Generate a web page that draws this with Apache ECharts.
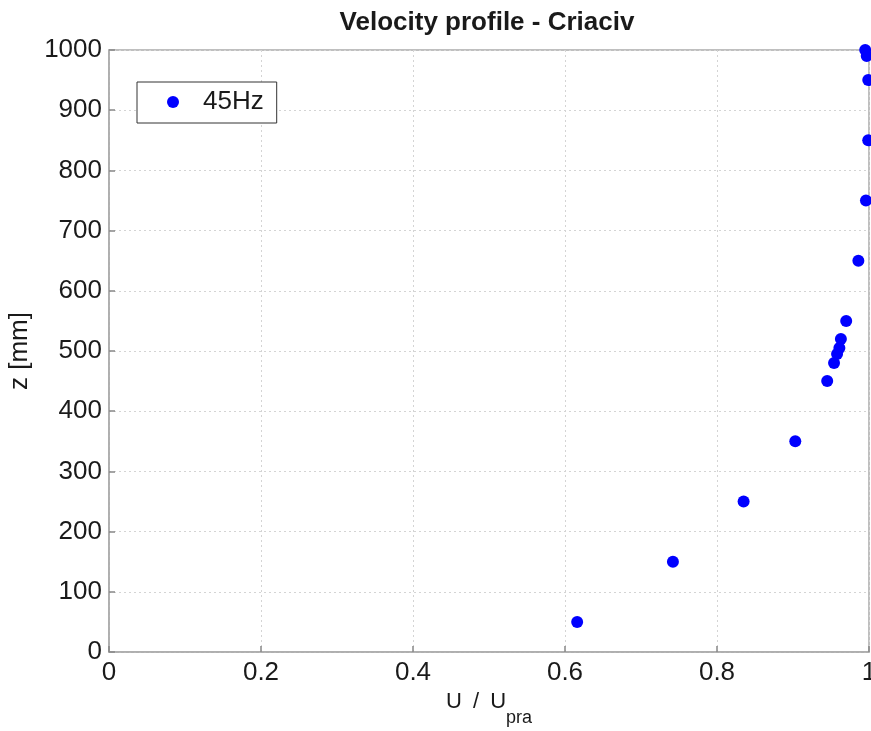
<!DOCTYPE html>
<html>
<head>
<meta charset="utf-8">
<script src="https://cdn.jsdelivr.net/npm/echarts@6/dist/echarts.min.js"></script>
<style>
  html, body { margin: 0; padding: 0; background: #fff; }
  #chart { width: 871px; height: 731px; }
</style>
</head>
<body>
<div id="chart"></div>
<script>
// Normalised velocity U/Upra against height z (mm), 45 Hz fan setting
const seriesName = '45Hz';
const velocityRatio = [0.616, 0.742, 0.835, 0.903, 0.945, 0.954, 0.958, 0.961, 0.963, 0.970, 0.986, 0.996, 0.999, 0.999, 0.997, 0.995];
const heightMm     = [50,    150,   250,   350,   450,   480,   495,   505,   520,   550,   650,   750,   850,   950,   990,   1000];
const xTicks = [0, 0.2, 0.4, 0.6, 0.8, 1];
const yTicks = [0, 100, 200, 300, 400, 500, 600, 700, 800, 900, 1000];

const points = velocityRatio.map((u, i) => [u, heightMm[i]]);

const font = 'Liberation Sans, Arial, Helvetica, sans-serif';
const chart = echarts.init(document.getElementById('chart'), null, { renderer: 'canvas' });

chart.setOption({
  animation: false,
  backgroundColor: '#fff',
  title: {
    text: 'Velocity profile - Criaciv',
    left: 482,
    textAlign: 'center',
    top: 5,
    textStyle: { fontFamily: font, fontSize: 26, fontWeight: 'bold', color: '#1a1a1a' }
  },
  grid: {
    left: 109, right: 2, top: 50, bottom: 79,
    outerBoundsMode: 'none',
    show: true, borderColor: '#aaa', borderWidth: 1.5, backgroundColor: 'transparent'
  },
  legend: {
    left: 137, top: 82,
    orient: 'vertical',
    data: [seriesName],
    icon: 'circle',
    itemWidth: 12, itemHeight: 12,
    padding: [7, 13, 8, 30],
    borderColor: '#333', borderWidth: 1,
    backgroundColor: '#fff',
    textStyle: { fontFamily: font, fontSize: 26, color: '#1a1a1a', lineHeight: 26, padding: [0, 0, 0, 19] }
  },
  xAxis: {
    type: 'value',
    min: 0, max: 1, interval: 0.2,
    name: '{a|U }{s|/}{a| U}{b|pra}',
    nameLocation: 'middle',
    nameGap: 23,
    nameTextStyle: {
      rich: {
        a: { fontFamily: font, fontSize: 22, color: '#1a1a1a' },
        s: { fontFamily: font, fontSize: 22, color: '#1a1a1a', padding: [0, 5, 0, 5] },
        b: { fontFamily: font, fontSize: 18, color: '#1a1a1a', padding: [33, 0, 0, 0] }
      }
    },
    axisLine: { show: true, lineStyle: { color: '#aaa', width: 1.5 } },
    axisTick: { show: true, inside: true, length: 6, lineStyle: { color: '#888', width: 1.5 } },
    axisLabel: {
      fontFamily: font, fontSize: 26, color: '#1a1a1a', margin: 8,
      formatter: v => xTicks.includes(Math.round(v * 10) / 10) ? String(Math.round(v * 10) / 10) : ''
    },
    splitLine: { show: true, lineStyle: { color: '#d4d4d4', type: [2, 3], width: 1 } }
  },
  yAxis: {
    type: 'value',
    min: 0, max: 1000, interval: 100,
    name: 'z [mm]',
    nameLocation: 'middle',
    nameGap: 74,
    nameRotate: 90,
    nameTextStyle: { fontFamily: font, fontSize: 26, color: '#1a1a1a' },
    axisLine: { show: true, lineStyle: { color: '#aaa', width: 1.5 } },
    axisTick: { show: true, inside: true, length: 6, lineStyle: { color: '#888', width: 1.5 } },
    axisLabel: {
      fontFamily: font, fontSize: 26, color: '#1a1a1a', margin: 7,
      formatter: v => yTicks.includes(v) ? String(v) : ''
    },
    splitLine: { show: true, lineStyle: { color: '#d4d4d4', type: [2, 3], width: 1 } }
  },
  series: [{
    name: seriesName,
    type: 'scatter',
    data: points,
    symbol: 'circle',
    symbolSize: 12,
    clip: false,
    itemStyle: { color: '#0000ff', opacity: 1 }
  }]
});
</script>
</body>
</html>
